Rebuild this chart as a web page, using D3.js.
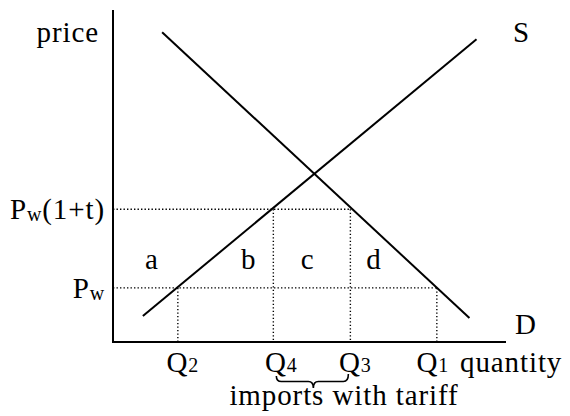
<!DOCTYPE html>
<html>
<head>
<meta charset="utf-8">
<script src="https://cdn.jsdelivr.net/npm/d3@7"></script>
<style>
  html,body{margin:0;padding:0;background:#fff;}
  svg{display:block;}
  text{font-family:"Liberation Serif","Times New Roman",serif;fill:#000;letter-spacing:0.9px;}
</style>
</head>
<body>
<div id="chart"></div>
<script>
// tariff diagram -- supply/demand with world price and tariff price

// data (quantity, price) in chart units 0..10
const supplyLine=[[0.76,0.78],[9.25,9.12]];
const demandLine=[[1.25,9.33],[9.07,0.72]];
const priceLevels=[
  {key:"pw",  main:"P", sub:"w", tail:"",      p:1.63, qEnd:8.24},
  {key:"pwt", main:"P", sub:"w", tail:"(1+t)", p:4.00, qEnd:6.06}
];
const quantities=[
  {label:"Q", sub:"2", q:1.65, p:1.63},
  {label:"Q", sub:"4", q:4.08, p:4.00},
  {label:"Q", sub:"3", q:6.04, p:4.00},
  {label:"Q", sub:"1", q:8.24, p:1.63}
];
const areaLabels=["a","b","c","d"];
const areaQ=[0.99,3.45,4.95,6.64];
const areaP=2.45;

const W=570,H=416;
const x=d3.scaleLinear().domain([0,10]).range([113,506]);
const y=d3.scaleLinear().domain([0,10]).range([342,10]);

const svg=d3.select("#chart").append("svg").attr("width",W).attr("height",H);

// dotted guide lines
const dot=sel=>sel.attr("stroke","#000").attr("stroke-width",1.4).attr("stroke-dasharray","1.4,2.1").attr("fill","none");
svg.append("g").selectAll("line").data(priceLevels).join("line")
  .attr("x1",x(0)).attr("x2",d=>x(d.qEnd)).attr("y1",d=>y(d.p)).attr("y2",d=>y(d.p)).call(dot);
svg.append("g").selectAll("line").data(quantities).join("line")
  .attr("x1",d=>x(d.q)).attr("x2",d=>x(d.q)).attr("y1",d=>y(d.p)).attr("y2",y(0)).call(dot);

// supply and demand
const line=d3.line().x(d=>x(d[0])).y(d=>y(d[1]));
svg.append("path").attr("d",line(supplyLine)).attr("stroke","#000").attr("stroke-width",2).attr("fill","none");
svg.append("path").attr("d",line(demandLine)).attr("stroke","#000").attr("stroke-width",2).attr("fill","none");

// axes
svg.append("line").attr("x1",x(0)).attr("x2",x(0)).attr("y1",y(10)).attr("y2",y(0))
  .attr("stroke","#000").attr("stroke-width",2);
svg.append("line").attr("x1",x(0)-1).attr("x2",x(10)).attr("y1",y(0)).attr("y2",y(0))
  .attr("stroke","#000").attr("stroke-width",2);

const FS=29, SUB=20;

svg.append("text").attr("x",99).attr("y",42).attr("text-anchor","end").style("font-size",FS+"px").text("price");
svg.append("text").attr("x",513).attr("y",42).style("font-size",FS+"px").text("S");
svg.append("text").attr("x",515).attr("y",334).style("font-size",FS+"px").text("D");
svg.append("text").attr("x",460).attr("y",372).style("font-size",FS+"px").text("quantity");

// price labels
priceLevels.forEach(d=>{
  const t=svg.append("text").attr("x",x(0)-8).attr("y",y(d.p)+10)
    .attr("text-anchor","end").style("font-size",FS+"px");
  t.append("tspan").text(d.main);
  t.append("tspan").style("font-size",SUB+"px").attr("dy",2).text(d.sub);
  if(d.tail) t.append("tspan").attr("dy",-2).text(d.tail);
});

// area labels
svg.append("g").selectAll("text").data(areaLabels).join("text")
  .attr("x",(d,i)=>x(areaQ[i])).attr("y",y(areaP)+8).attr("text-anchor","middle")
  .style("font-size",FS+"px").text(d=>d);

// quantity labels
const qdx=[5,8,5,-4];
quantities.forEach((d,i)=>{
  const t=svg.append("text").attr("x",x(d.q)+qdx[i]).attr("y",372)
    .attr("text-anchor","middle").style("font-size",FS+"px");
  t.append("tspan").text(d.label);
  t.append("tspan").style("font-size",SUB+"px").text(d.sub);
});

// brace under Q4..Q3
const bx1=x(quantities[1].q)+3, bx2=x(quantities[2].q)-2, bm=(bx1+bx2)/2+1;
const y0=376, y1=381.5, y2=388, r=5;
svg.append("path")
  .attr("d",`M${bx1},${y0} Q${bx1},${y1} ${bx1+r},${y1} L${bm-r},${y1} Q${bm},${y1} ${bm},${y2} Q${bm},${y1} ${bm+r},${y1} L${bx2-r},${y1} Q${bx2},${y1} ${bx2},${y0-2}`)
  .attr("fill","none").attr("stroke","#000").attr("stroke-width",1.6);

svg.append("text").attr("x",344).attr("y",405).attr("text-anchor","middle")
  .style("font-size",FS+"px").text("imports with tariff");
</script>
</body>
</html>
